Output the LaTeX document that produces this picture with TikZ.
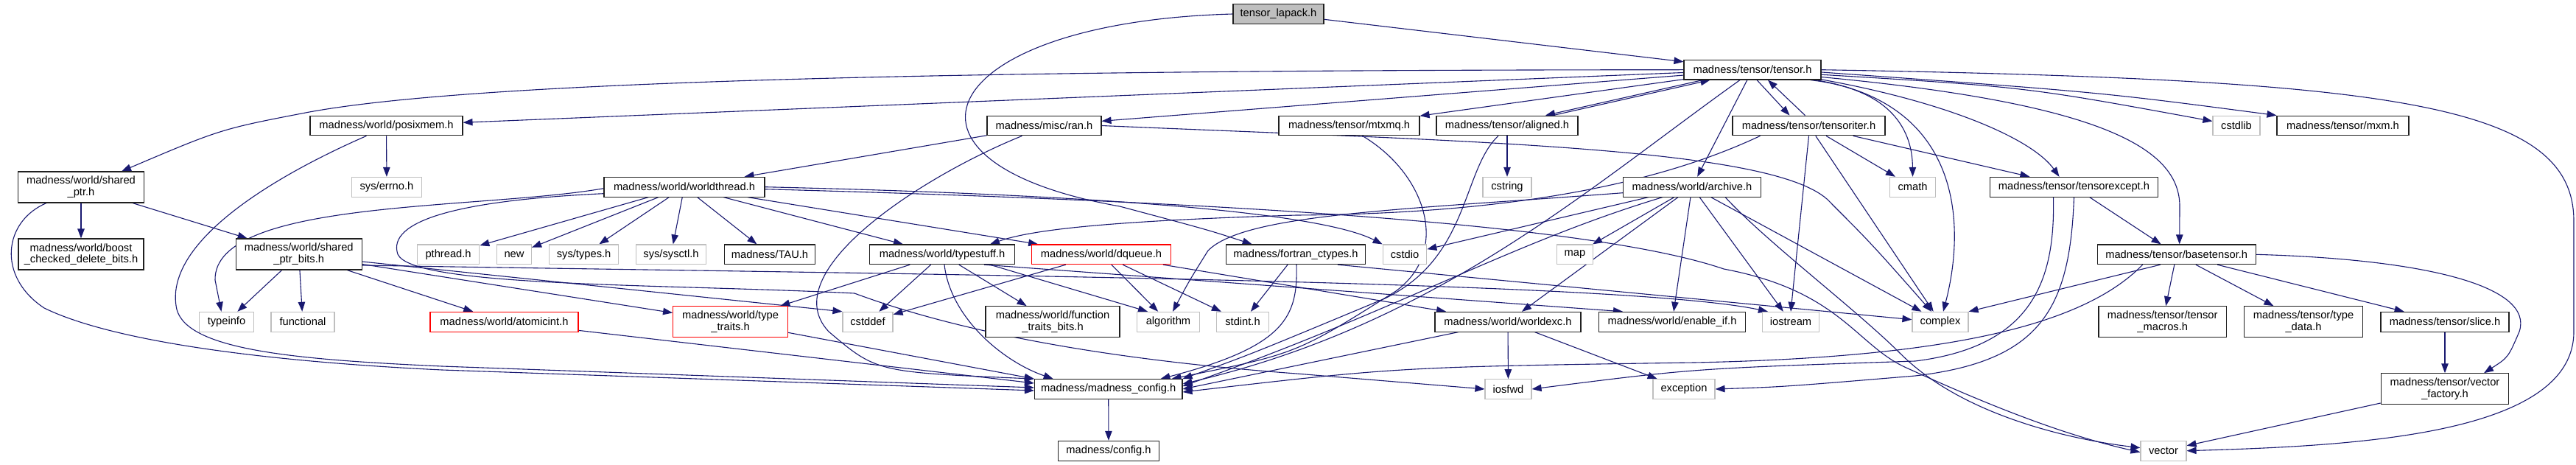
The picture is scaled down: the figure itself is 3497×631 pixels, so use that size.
\documentclass[tikz,border=0pt]{standalone}
\usepackage{fontspec}
\setmainfont{Liberation Sans}
\usetikzlibrary{arrows.meta,backgrounds}
\definecolor{edgeblue}{HTML}{191970}
\definecolor{graybd}{HTML}{BFBFBF}
\definecolor{lapackfill}{HTML}{BFBFBF}
\definecolor{redbd}{HTML}{FF0000}
\definecolor{boxbd}{HTML}{202020}
\begin{document}
\begin{tikzpicture}[x=1pt,y=-1pt,
  box/.style={draw=boxbd, line width=1.1pt, inner sep=0pt, minimum height=26.7pt,
    font=\fontsize{14.7pt}{15.7pt}\selectfont, align=center, fill=white},
  sysbox/.style={box, draw=graybd},
  redbox/.style={box, draw=redbd},
  twoline/.style={minimum height=42pt},
  dep/.style={draw=edgeblue, line width=1.1pt, -{Triangle[length=13pt,width=9.5pt]}}
]
\useasboundingbox (0,0) rectangle (3497,631);
% row 0
\node[box, fill=lapackfill, minimum width=123pt] (lapack) at (1735.5,19) {tensor\_lapack.h};
% row 1
\node[box, minimum width=186pt] (tensor) at (2379,94.7) {madness/tensor/tensor.h};
% row 2
\node[box, minimum width=207pt] (posixmem) at (524.5,170.5) {madness/world/posixmem.h};
\node[box, minimum width=155pt] (ran) at (1417.5,170.5) {madness/misc/ran.h};
\node[box, minimum width=191pt] (mtxmq) at (1831.5,170.5) {madness/tensor/mtxmq.h};
\node[box, minimum width=192pt] (aligned) at (2046,170.5) {madness/tensor/aligned.h};
\node[box, minimum width=207pt] (tensoriter) at (2455.5,170.5) {madness/tensor/tensoriter.h};
\node[sysbox, minimum width=64pt] (cstdlib) at (3036,170.5) {cstdlib};
\node[box, minimum width=179pt] (mxm) at (3180.5,170.5) {madness/tensor/mxm.h};
% row 3
\node[box, twoline, minimum width=171pt] (sharedptr) at (110,254) {madness/world/shared\\\_ptr.h};
\node[sysbox, minimum width=95.5pt] (errno) at (525,253.7) {sys/errno.h};
\node[box, minimum width=218pt] (worldthread) at (929,253.7) {madness/world/worldthread.h};
\node[sysbox, minimum width=66pt] (cstring) at (2046,253.7) {cstring};
\node[box, minimum width=187pt] (archive) at (2297,253.7) {madness/world/archive.h};
\node[sysbox, minimum width=62pt] (cmath) at (2596.5,253.7) {cmath};
\node[box, minimum width=228pt] (tensorexcept) at (2815.5,253.7) {madness/tensor/tensorexcept.h};
% row 4
\node[box, twoline, minimum width=170pt] (boost) at (110,345) {madness/world/boost\\\_checked\_delete\_bits.h};
\node[box, twoline, minimum width=171pt] (spbits) at (405.7,345) {madness/world/shared\\\_ptr\_bits.h};
\node[sysbox, minimum width=84.4pt] (pthread) at (608.6,345.3) {pthread.h};
\node[sysbox, minimum width=47pt] (new) at (698,345.3) {new};
\node[sysbox, minimum width=94.6pt] (systypes) at (792.6,345.3) {sys/types.h};
\node[sysbox, minimum width=95pt] (sysctl) at (911,345.3) {sys/sysctl.h};
\node[box, minimum width=123pt] (tau) at (1045,345.3) {madness/TAU.h};
\node[box, minimum width=197.5pt] (typestuff) at (1279,345.3) {madness/world/typestuff.h};
\node[redbox, minimum width=189pt] (dqueue) at (1495,345.3) {madness/world/dqueue.h};
\node[box, minimum width=189.6pt] (fortran) at (1759,345.3) {madness/fortran\_ctypes.h};
\node[sysbox, minimum width=59.6pt] (cstdio) at (1907,345.3) {cstdio};
\node[sysbox, minimum width=49.4pt] (map) at (2138,345.3) {map};
\node[box, minimum width=215pt] (basetensor) at (2954.7,345.3) {madness/tensor/basetensor.h};
% row 5
\node[sysbox, minimum width=74pt] (typeinfo) at (307.5,436.7) {typeinfo};
\node[sysbox, minimum width=86pt] (functional) at (411,436.7) {functional};
\node[redbox, minimum width=201pt] (atomicint) at (684.5,436.7) {madness/world/atomicint.h};
\node[redbox, twoline, minimum width=156pt] (typetraits) at (991.6,436.7) {madness/world/type\\\_traits.h};
\node[sysbox, minimum width=68pt] (cstddef) at (1178,436.7) {cstddef};
\node[box, twoline, minimum width=182pt] (functraits) at (1429,436.7) {madness/world/function\\\_traits\_bits.h};
\node[sysbox, minimum width=84.6pt] (algorithm) at (1586,436.7) {algorithm};
\node[sysbox, minimum width=71pt] (stdint) at (1687,436.7) {stdint.h};
\node[box, minimum width=198pt] (worldexc) at (2047,436.7) {madness/world/worldexc.h};
\node[box, minimum width=199pt] (enableif) at (2270,436.7) {madness/world/enable\_if.h};
\node[sysbox, minimum width=77pt] (iostream) at (2431,436.7) {iostream};
\node[sysbox, minimum width=76pt] (complex) at (2634,436.7) {complex};
\node[box, twoline, minimum width=173.5pt] (tmacros) at (2935.7,436.7) {madness/tensor/tensor\\\_macros.h};
\node[box, twoline, minimum width=160.7pt] (typedata) at (3127,436.7) {madness/tensor/type\\\_data.h};
\node[box, minimum width=174pt] (slice) at (3319,436.7) {madness/tensor/slice.h};
% row 6
\node[box, minimum width=200.5pt] (mconfig) at (1504.7,528) {madness/madness\_config.h};
\node[sysbox, minimum width=63pt] (iosfwd) at (2047.5,528) {iosfwd};
\node[sysbox, minimum width=84pt] (exception) at (2286,528) {exception};
\node[box, twoline, minimum width=173.5pt] (vfactory) at (3319,527.8) {madness/tensor/vector\\\_factory.h};
% row 7
\node[box, minimum width=137.7pt] (config) at (1505,611.7) {madness/config.h};
\node[sysbox, minimum width=62pt] (vector) at (2937,611.7) {vector};

\begin{scope}[on background layer]
% tensor_lapack.h
\draw[dep] (lapack) -- (tensor);
\draw[dep] (lapack.west) .. controls (1270,30) and (1180,220) .. (1520,280) .. controls (1640,312) .. ([xshift=36pt]fortran.north west);
% tensor.h
\draw[dep] (tensor.west) .. controls (1300,95) and (650,110) .. (420,152) .. controls (300,175) .. ([xshift=55pt]sharedptr.north);
\draw[dep] (tensor) -- (posixmem);
\draw[dep] (tensor) -- (ran);
\draw[dep] (tensor) -- (mtxmq);
\draw[dep] ([xshift=26pt]tensor.south west) -- ([xshift=52pt]aligned.north);
\draw[dep] ([xshift=62pt]aligned.north) -- ([xshift=36pt]tensor.south west);
\draw[dep] ([xshift=6pt]tensor.south) -- ([xshift=-26pt]tensoriter.north);
\draw[dep] ([xshift=-5pt]tensoriter.north) -- ([xshift=21pt]tensor.south);
\draw[dep] (tensor.-4) .. controls (2750,118) .. ([yshift=6pt]cstdlib.west);
\draw[dep] (tensor.-2) .. controls (2850,125) .. (mxm.north west);
\draw[dep] (tensor.east) .. controls (3250,108) and (3494,140) .. (3494,300) -- (3494,450) .. controls (3494,590) and (3200,605) .. (vector.east);
\draw[dep] (tensor) -- (archive);
\draw[dep] ([xshift=-15pt]tensor.south east) .. controls (2560,120) and (2596,170) .. (cmath.north);
\draw[dep] ([xshift=-8pt]tensor.south east) .. controls (2660,140) and (2670,300) .. ([xshift=4pt]complex.north);
\draw[dep] (tensor.-8) .. controls (2650,140) and (2760,190) .. ([xshift=-20pt]tensorexcept.north);
\draw[dep] (tensor.-6) .. controls (2850,140) and (2959,200) .. (2959,280) -- ([xshift=4pt]basetensor.north);
\draw[dep] ([xshift=-17pt]tensor.south) .. controls (2150,260) and (1950,440) .. ([yshift=7pt]mconfig.east);
% aligned.h, mtxmq.h
\draw[dep] (aligned) -- (cstring);
\draw[dep] ([xshift=-12pt]aligned.south) .. controls (1985,230) and (1995,350) .. (1880,405) .. controls (1700,480) .. (mconfig.north east);
\draw[dep] ([xshift=18pt]mtxmq.south) .. controls (1935,235) and (1970,340) .. (1895,395) .. controls (1760,480) .. ([xshift=-15pt]mconfig.north east);
% tensoriter.h
\draw[dep] (tensoriter) -- (cmath);
\draw[dep] (tensoriter) -- (tensorexcept);
\draw[dep] (tensoriter.south) -- (iostream.north);
\draw[dep] (tensoriter) -- (complex);
\draw[dep] ([xshift=-66pt]tensoriter.south) .. controls (2250,250) and (2050,290) .. (1760,292) .. controls (1500,300) and (1400,312) .. ([xshift=65pt]typestuff.north);
% posixmem.h
\draw[dep] (posixmem) -- (errno);
\draw[dep] ([xshift=-27pt]posixmem.south) .. controls (370,240) and (220,330) .. (240,420) .. controls (255,475) and (400,488) .. (600,497) -- ([yshift=2pt]mconfig.west);
% shared_ptr.h
\draw[dep] (sharedptr) -- (boost);
\draw[dep] (sharedptr) -- (spbits);
\draw[dep] ([xshift=-47pt]sharedptr.south) .. controls (5,300) and (-5,375) .. (60,418) .. controls (150,462) and (350,490) .. (600,502) -- ([yshift=-2pt]mconfig.west);
% worldthread.h
\draw[dep] (worldthread) -- (pthread);
\draw[dep] (worldthread) -- (new);
\draw[dep] (worldthread) -- (systypes);
\draw[dep] (worldthread) -- (sysctl);
\draw[dep] (worldthread) -- (tau);
\draw[dep] (worldthread) -- (typestuff);
\draw[dep] (worldthread) -- (dqueue);
\draw[dep] (worldthread.east) .. controls (1400,262) and (1780,282) .. (cstdio.north west);
\draw[dep] ([yshift=-3pt]worldthread.east) .. controls (1600,272) and (2150,300) .. (2340,365) .. controls (2500,395) and (2520,470) .. (2590,500) .. controls (2700,550) and (2800,590) .. ([yshift=-2pt]vector.west);
\draw[dep] ([yshift=-2pt]worldthread.west) .. controls (650,285) and (290,270) .. (292,380) -- ([xshift=-7pt]typeinfo.north);
\draw[dep] ([yshift=-9pt]worldthread.west) .. controls (620,272) and (525,300) .. (540,345) .. controls (560,390) and (900,385) .. (1160,398) .. controls (1300,450) and (1500,488) .. (1760,507) -- (iosfwd.west);
% ran.h
\draw[dep] (ran) -- (worldthread);
\draw[dep] ([xshift=-30pt]ran.south) .. controls (1250,240) and (1050,370) .. (1125,450) .. controls (1190,505) .. (mconfig.north west);
\draw[dep] (ran.east) .. controls (2000,192) and (2400,200) .. (2480,270) .. controls (2540,330) .. ([xshift=-12pt]complex.north);
% archive.h
\draw[dep] (archive) -- (cstdio);
\draw[dep] (archive) -- (map);
\draw[dep] (archive) -- (worldexc);
\draw[dep] (archive) -- (enableif);
\draw[dep] (archive) -- (iostream);
\draw[dep] (archive) -- (complex);
\draw[dep] ([xshift=45pt]archive.south) .. controls (2400,330) and (2520,420) .. (2580,480) .. controls (2660,560) and (2800,595) .. ([yshift=4pt]vector.west);
\draw[dep] ([yshift=-8pt]archive.west) .. controls (1900,285) and (1690,290) .. (1640,340) .. controls (1615,380) .. ([xshift=6pt]algorithm.north);
\draw[dep] ([xshift=-40pt]archive.south) .. controls (2050,330) and (1900,420) .. ([yshift=4pt]mconfig.east);
% tensorexcept.h
\draw[dep] (tensorexcept) -- (basetensor);
\draw[dep] ([xshift=-28pt]tensorexcept.south) .. controls (2790,380) and (2760,470) .. (2600,490) .. controls (2300,500) .. (iosfwd.east);
\draw[dep] (tensorexcept.south) .. controls (2810,420) and (2770,490) .. (2600,510) .. controls (2420,525) .. (exception.east);
% shared_ptr_bits.h
\draw[dep] (spbits) -- (typeinfo);
\draw[dep] (spbits) -- (functional);
\draw[dep] (spbits) -- (atomicint);
\draw[dep] (spbits) -- (typetraits);
\draw[dep] ([yshift=-10pt]spbits.east) -- (cstddef.north west);
\draw[dep] ([yshift=-15pt]spbits.east) .. controls (1200,372) and (2200,380) .. ([xshift=8pt]iostream.north west);
% atomicint.h, type_traits.h
\draw[dep] (atomicint) -- ([yshift=8pt]mconfig.west);
\draw[dep] (typetraits) -- (mconfig.north west);
% typestuff.h
\draw[dep] (typestuff) -- (typetraits);
\draw[dep] (typestuff) -- (cstddef);
\draw[dep] ([xshift=3pt]typestuff.south) .. controls (1290,430) and (1360,490) .. ([xshift=-75pt]mconfig.north);
\draw[dep] (typestuff) -- (functraits);
\draw[dep] ([xshift=57pt]typestuff.south) -- ([xshift=-67pt]enableif.north);
\draw[dep] ([xshift=65pt]typestuff.south) -- ([xshift=-28pt]algorithm.north);
% dqueue.h
\draw[dep] (dqueue) -- (cstddef);
\draw[dep] (dqueue) -- (algorithm);
\draw[dep] (dqueue) -- (stdint);
\draw[dep] (dqueue) -- (worldexc);
% fortran_ctypes.h
\draw[dep] (fortran) -- (stdint);
\draw[dep] ([xshift=1pt]fortran.south) .. controls (1762,430) and (1745,470) .. ([xshift=-30pt]mconfig.north east);
\draw[dep] ([xshift=57pt]fortran.south) -- ([yshift=3pt]complex.west);
% basetensor.h
\draw[dep] ([xshift=-22pt]basetensor.south) -- (complex.north east);
\draw[dep] ([xshift=-46pt]basetensor.south) .. controls (2830,440) and (2650,485) .. (2300,492) .. controls (1900,498) .. ([yshift=-4pt]mconfig.east);
\draw[dep] (basetensor) -- (tmacros);
\draw[dep] (basetensor) -- (typedata);
\draw[dep] (basetensor) -- (slice);
\draw[dep] (basetensor.east) .. controls (3300,352) and (3440,390) .. (3420,450) .. controls (3405,485) .. ([xshift=53pt]vfactory.north);
\draw[dep] (slice) -- (vfactory);
\draw[dep] (vfactory) -- (vector);
% worldexc.h
\draw[dep] (worldexc) -- (mconfig.east);
\draw[dep] (worldexc) -- (iosfwd);
\draw[dep] (worldexc) -- (exception);
% madness_config.h
\draw[dep] (mconfig) -- (config);
\end{scope}
\end{tikzpicture}
\end{document}
